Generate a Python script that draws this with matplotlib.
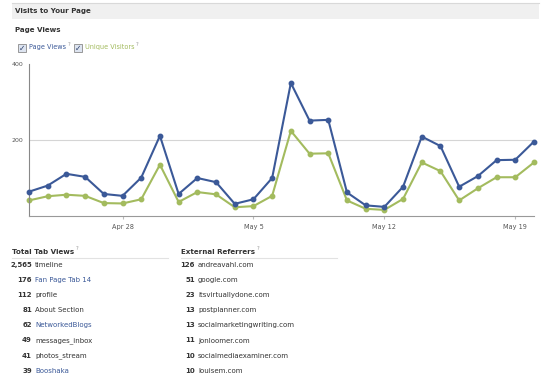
import matplotlib.pyplot as plt
import matplotlib.dates as mdates
from matplotlib.patches import Rectangle
import pandas as pd

# daily values, Apr 23 - May 20
dates = pd.date_range("2012-04-23", "2012-05-20", freq="D")
page_views = [64, 80, 111, 103, 58, 53, 101, 211, 58, 100, 89, 32, 44, 100,
              350, 251, 253, 62, 28, 24, 77, 209, 184, 77, 105, 147, 148, 196]
unique_visitors = [41, 52, 56, 53, 34, 33, 44, 135, 37, 63, 57, 23, 26, 53,
                   224, 164, 165, 41, 19, 16, 45, 141, 118, 41, 73, 102, 102, 141]
tick_dates = ["2012-04-28", "2012-05-05", "2012-05-12", "2012-05-19"]

tab_counts = ["2,565", "176", "112", "81", "62", "49", "41", "39"]
tab_names = ["timeline", "Fan Page Tab 14", "profile", "About Section",
             "NetworkedBlogs", "messages_inbox", "photos_stream", "Booshaka"]
tab_is_link = [False, True, False, False, True, False, False, True]

ref_counts = ["126", "51", "23", "13", "13", "11", "10", "10"]
ref_names = ["andreavahl.com", "google.com", "itsvirtuallydone.com", "postplanner.com",
             "socialmarketingwriting.com", "jonloomer.com", "socialmediaexaminer.com",
             "louisem.com"]

W, H = 550, 380
BLUE = "#3b5998"
GREEN = "#a3bb5e"
DARK = "#333333"

plt.rcParams['font.family'] = ['DejaVu Sans']

fig = plt.figure(figsize=(W / 100, H / 100), dpi=100)
renderer = fig.canvas.get_renderer()


def px(x, y):
    return x / W, 1 - y / H


def txt(x, y, s, **kw):
    kw.setdefault("va", "center")
    kw.setdefault("color", DARK)
    return fig.text(*px(x, y), s, **kw)


def qmark(t, dy=-3):
    # small grey "?" right after a text
    bb = t.get_window_extent(renderer)
    x_end = bb.x1
    y_mid = H - (bb.y0 + bb.y1) / 2
    txt(x_end + 1.5, y_mid + dy, "?", fontsize=3.8, color="#9a9a9a", ha="left")


# header bar
fig.patches.append(Rectangle(px(12, 19), 527 / W, 16 / H, transform=fig.transFigure,
                             fc="#f0f0f0", ec="none", zorder=0))
fig.add_artist(plt.Line2D([12 / W, 539 / W], [1 - 3 / H, 1 - 3 / H],
                          color="#d9d9d9", lw=0.8))
txt(15, 11, "Visits to Your Page", fontsize=5.1, weight="bold")
txt(15, 30, "Page Views", fontsize=5.1, weight="bold")

# checkboxes
for bx, label, col, lx in [(18, "Page Views", BLUE, 29), (74, "Unique Visitors", GREEN, 85)]:
    fig.patches.append(Rectangle(px(bx, 52), 8 / W, 8 / H, transform=fig.transFigure,
                                 fc="#dde4f0", ec="#8a8a8a", lw=0.6))
    txt(bx + 4, 48, "\u2713", fontsize=5.5, color="#2b3f6b", ha="center", weight="bold")
    t = txt(lx, 47, label, fontsize=4.7, color=col)
    qmark(t)

# chart
ax = fig.add_axes([29 / W, 1 - 216 / H, 505 / W, 152 / H])
ax.plot(dates, page_views, color=BLUE, lw=1.5, marker="o", ms=3.2, clip_on=False, zorder=3)
ax.plot(dates, unique_visitors, color=GREEN, lw=1.5, marker="o", ms=3.2, clip_on=False, zorder=2)
ax.set_xlim(dates[0], dates[-1])
ax.set_ylim(0, 400)
ax.set_yticks([200, 400])
ax.set_yticklabels(["200", "400"])
ax.axhline(200, color="#d5d5d5", lw=0.8, zorder=0)
ax.set_xticks(pd.to_datetime(tick_dates))
ax.xaxis.set_major_formatter(mdates.DateFormatter("%b %-d"))
ax.tick_params(axis="x", length=2, color="#bbbbbb", labelsize=4.7, labelcolor="#555555", pad=4)
ax.tick_params(axis="y", length=0, labelsize=4.5, labelcolor="#555555", pad=4)
for side in ["top", "right"]:
    ax.spines[side].set_visible(False)
ax.spines["left"].set_color("#888888")
ax.spines["bottom"].set_color("#999999")
ax.spines["left"].set_linewidth(0.8)
ax.spines["bottom"].set_linewidth(0.8)
ax.set_facecolor("none")

# tables
t = txt(12, 252, "Total Tab Views", fontsize=5.1, weight="bold")
qmark(t)
fig.add_artist(plt.Line2D([12 / W, 168 / W], [1 - 258 / H, 1 - 258 / H],
                          color="#e2e2e2", lw=0.8))
t = txt(181, 252, "External Referrers", fontsize=5.1, weight="bold")
qmark(t)
fig.add_artist(plt.Line2D([181 / W, 337 / W], [1 - 258 / H, 1 - 258 / H],
                          color="#e2e2e2", lw=0.8))

for i in range(len(tab_counts)):
    y = 265 + i * 15.1
    txt(32, y, tab_counts[i], fontsize=5.0, weight="bold", ha="right")
    txt(35, y, tab_names[i], fontsize=5.0, color=BLUE if tab_is_link[i] else DARK)
    txt(195, y, ref_counts[i], fontsize=5.0, weight="bold", ha="right")
    txt(198, y, ref_names[i], fontsize=5.0)

fig.savefig("out.png", dpi=100)
